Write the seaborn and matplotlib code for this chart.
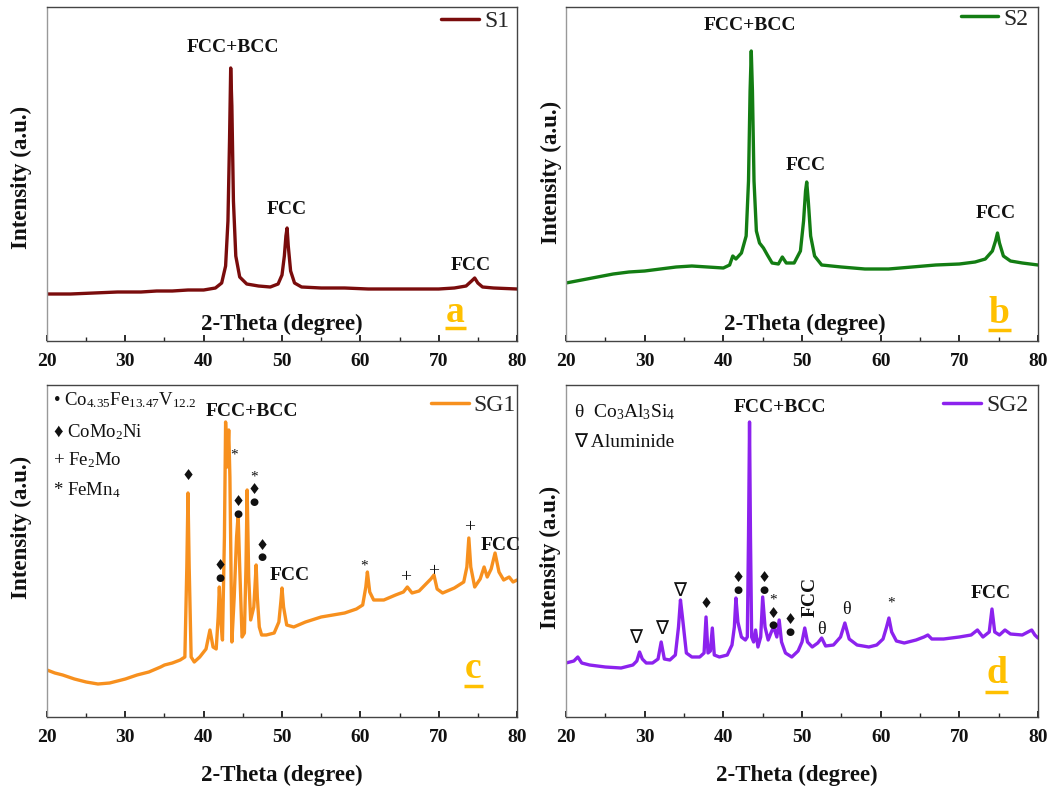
import numpy as np
import pandas as pd
import matplotlib
matplotlib.use("Agg")
import matplotlib.pyplot as plt
import seaborn as sns

# ---- data: (2-theta, intensity a.u.) ----
s1_pts = [(20, 47), (23, 47), (26, 48), (29, 49), (32, 49), (34, 50), (36, 50), (38, 51),
          (40, 51), (41.5, 53), (42.3, 58), (42.8, 75), (43.1, 120), (43.3, 200), (43.45, 273),
          (43.6, 235), (43.8, 140), (44.1, 85), (44.6, 64), (45.5, 57), (47, 55), (48.5, 54),
          (49.5, 57), (50.0, 66), (50.3, 85), (50.5, 105), (50.65, 113), (50.8, 95), (51.1, 70),
          (51.6, 58), (52.5, 54), (55, 53), (58, 53), (61, 52), (64, 52), (67, 52), (70, 52),
          (72, 53), (73.5, 55), (74.2, 60), (74.6, 63), (75.0, 58), (75.6, 54), (77, 53), (80, 52)]

s2_pts = [(20, 58), (22, 61), (24, 64), (26, 67), (28, 69), (30, 70), (32, 72), (34, 74),
          (36, 75), (38, 74), (40, 73), (40.8, 76), (41.2, 85), (41.6, 82), (42.3, 88),
          (42.9, 105), (43.2, 160), (43.4, 250), (43.55, 290), (43.7, 250), (43.9, 160),
          (44.2, 110), (44.6, 98), (45.1, 93), (45.6, 86), (46.2, 78), (47, 77), (47.5, 84),
          (48, 78), (49, 78), (49.8, 90), (50.2, 120), (50.45, 150), (50.6, 159), (50.8, 140),
          (51.1, 105), (51.6, 85), (52.5, 76), (55, 74), (58, 72), (61, 72), (64, 74), (67, 76),
          (70, 77), (72, 79), (73.3, 82), (74.2, 90), (74.6, 100), (74.85, 108), (75.1, 98),
          (75.6, 85), (76.5, 80), (78, 78), (80, 76)]

sg1_pts = [(20, 47), (21, 44), (22, 42), (23.5, 38), (25, 35), (26.5, 33), (28, 34), (30, 38),
           (31.5, 42), (33, 45), (34.5, 50), (35, 52), (36, 54), (37, 57), (37.6, 60),
           (37.85, 150), (38.0, 224), (38.15, 150), (38.4, 60), (38.8, 55), (39.5, 60),
           (40.3, 68), (40.8, 87), (41.2, 70), (41.6, 68), (41.85, 100), (42.0, 130), (42.2, 95),
           (42.4, 77), (42.65, 180), (42.8, 295), (43.0, 250), (43.2, 287), (43.35, 240),
           (43.6, 75), (43.9, 120), (44.2, 180), (44.4, 202), (44.6, 150), (44.9, 80), (45.2, 84),
           (45.4, 150), (45.55, 227), (45.75, 140), (46.0, 97), (46.4, 110), (46.7, 152),
           (46.85, 120), (47.1, 90), (47.4, 82), (48, 82), (49, 84), (49.6, 95), (49.85, 115),
           (50.0, 129), (50.2, 110), (50.6, 92), (51.5, 90), (53, 95), (55, 100), (56.5, 102),
           (58, 104), (59.5, 108), (60.3, 112), (60.7, 130), (60.9, 145), (61.2, 125),
           (61.7, 117), (63, 117), (64.5, 122), (65.5, 125), (66.0, 130), (66.6, 124),
           (67.5, 126), (68.5, 134), (69.0, 138), (69.4, 142), (69.8, 128), (70.5, 124),
           (72, 129), (73.2, 135), (73.6, 150), (73.85, 179), (74.1, 150), (74.6, 130),
           (75.3, 138), (75.8, 150), (76.2, 140), (76.7, 148), (77.2, 164), (77.7, 145),
           (78.3, 137), (79, 140), (79.5, 135), (80, 137)]

sg2_pts = [(20, 54), (21, 56), (21.5, 60), (22, 54), (23, 52), (25, 50), (27, 49), (28.5, 52),
           (29.0, 56), (29.35, 65), (29.7, 58), (30.2, 54), (31, 54), (31.7, 58), (32.1, 75),
           (32.5, 58), (33.2, 57), (33.9, 62), (34.3, 90), (34.55, 117), (34.8, 100), (35.3, 64),
           (36, 60), (37, 60), (37.55, 64), (37.8, 100), (38.05, 64), (38.35, 66), (38.6, 89),
           (38.85, 62), (39.5, 60), (40.5, 62), (41.1, 72), (41.4, 90), (41.6, 119), (41.85, 95),
           (42.3, 80), (42.8, 77), (43.05, 80), (43.2, 180), (43.33, 295), (43.45, 180),
           (43.6, 80), (43.85, 75), (44.1, 87), (44.4, 70), (44.75, 80), (45.0, 120), (45.3, 90),
           (45.7, 77), (46.1, 85), (46.4, 90), (46.8, 80), (47.1, 97), (47.4, 75), (47.9, 64),
           (48.7, 60), (49.5, 66), (50.0, 75), (50.35, 89), (50.7, 75), (51.3, 70), (52.0, 74),
           (52.5, 79), (53.0, 71), (54.0, 72), (54.9, 80), (55.45, 94), (56.0, 78), (57, 72),
           (58.5, 70), (59.5, 72), (60.3, 78), (60.75, 90), (61.05, 99), (61.4, 85), (62, 76),
           (63, 74), (64.5, 77), (65.5, 80), (66, 82), (66.5, 78), (68, 78), (70, 80), (71.5, 82),
           (72.3, 87), (73, 80), (73.8, 85), (74.15, 108), (74.5, 85), (75.1, 82), (75.8, 87),
           (76.5, 83), (78, 82), (79.2, 87), (79.6, 82), (80, 79)]

sample_names = ["S1", "S2", "SG1", "SG2"]
sample_colors = ["#7a0c0c", "#137d13", "#f7901e", "#8c22ee"]
panel_letters = ["a", "b", "c", "d"]
x_ticks = [20, 30, 40, 50, 60, 70, 80]

# phase labels (bold) placed over the peaks: (text, 2-theta, height)
s1_phase = [("FCC+BCC", 43.75, 294), ("FCC", 50.6, 131), ("FCC", 74.15, 76)]
s2_phase = [("FCC+BCC", 43.4, 316), ("FCC", 50.5, 175), ("FCC", 74.6, 128)]
sg1_phase = [("FCC+BCC", 46.2, 305), ("FCC", 51.0, 142), ("FCC", 77.9, 172)]
sg2_phase = [("FCC+BCC", 47.2, 310), ("FCC", 74.0, 124)]

# phase symbols above peaks: (symbol, 2-theta, height)
sg1_marks = [("♦", 38.0, 241), ("♦", 42.1, 151), ("●", 42.1, 139), ("*", 43.9, 262),
             ("♦", 44.4, 215), ("●", 44.4, 203), ("*", 46.4, 240), ("♦", 46.4, 227),
             ("●", 46.4, 215), ("♦", 47.5, 172), ("●", 47.5, 160), ("*", 60.5, 151),
             ("+", 65.8, 139), ("+", 69.3, 145), ("+", 74.0, 189)]
sg2_marks = [("∇", 28.9, 79), ("∇", 32.2, 88), ("∇", 34.4, 126), ("♦", 37.8, 114),
             ("♦", 41.9, 139), ("●", 41.9, 127), ("♦", 45.2, 139), ("●", 45.2, 127),
             ("*", 46.3, 117), ("♦", 46.3, 104), ("●", 46.3, 92), ("♦", 48.5, 97),
             ("●", 48.5, 85), ("θ", 52.5, 87), ("θ", 55.6, 108), ("*", 61.3, 114)]

sg1_key = ["• Co$_{\\mathrm{4.35}}$Fe$_{\\mathrm{13.47}}$V$_{\\mathrm{12.2}}$",
           "♦ CoMo$_{\\mathrm{2}}$Ni", "+ Fe$_{\\mathrm{2}}$Mo", "* FeMn$_{\\mathrm{4}}$"]
sg2_key = ["θ  Co$_{\\mathrm{3}}$Al$_{\\mathrm{3}}$Si$_{\\mathrm{4}}$", "∇ Aluminide"]

sns.set_theme(style="white")
plt.rcParams["font.family"] = ["Liberation Serif", "DejaVu Sans"]
plt.rcParams["mathtext.fontset"] = "custom"
plt.rcParams["mathtext.rm"] = "Liberation Serif"
plt.rcParams["mathtext.it"] = "Liberation Serif:italic"
plt.rcParams["mathtext.bf"] = "Liberation Serif:bold"

fig = plt.figure(figsize=(10.58, 7.93), dpi=100)
W, H = 1058, 793
boxes = [(47, 7, 517, 341), (566, 7, 1038, 341), (47, 385, 517, 717), (566, 385, 1038, 717)]
axes = [fig.add_axes([l / W, 1 - b / H, (r - l) / W, (b - t) / H]) for l, t, r, b in boxes]

curves = [s1_pts, s2_pts, sg1_pts, sg2_pts]
phases = [s1_phase, s2_phase, sg1_phase, sg2_phase]
ylims = [334, 334, 332, 332]
legend_anchor = [(0.983, 0.99), (0.979, 0.997), (0.998, 0.97), (0.979, 0.97)]
ylabel_pos = [(-0.032, 0.49), (-0.008, 0.506), (-0.032, 0.572), (-0.011, 0.48)]
letter_pos = [(0.869, 0.057, 0.847, 0.891, 0.039), (0.918, 0.054, 0.894, 0.943, 0.033),
              (0.907, 0.117, 0.887, 0.928, 0.093), (0.912, 0.102, 0.888, 0.936, 0.075)]

for i, ax in enumerate(axes):
    df = pd.DataFrame(curves[i], columns=["two_theta", "intensity"])
    sns.lineplot(data=df, x="two_theta", y="intensity", ax=ax, color=sample_colors[i],
                 lw=2.4, sort=False, estimator=None, label=sample_names[i])
    ax.set_xlim(20, 80)
    ax.set_ylim(0, ylims[i])
    ax.set_yticks([])
    ax.set_xticks(x_ticks)
    ax.set_xticks(np.arange(25, 80, 10), minor=True)
    ax.tick_params(axis="x", which="major", direction="in", length=4, pad=9,
                   labelsize=14, colors="#111", bottom=True)
    ax.tick_params(axis="x", which="minor", direction="in", length=3, bottom=True)
    for lab in ax.get_xticklabels():
        lab.set_fontweight("bold")
    for side, sp in ax.spines.items():
        sp.set_color("#999" if side == "left" else "#444")
        sp.set_linewidth(1.0)

    ax.set_ylabel("Intensity (a.u.)", fontsize=16.5, fontweight="bold", color="#111")
    ax.yaxis.set_label_coords(*ylabel_pos[i])
    if i < 2:
        ax.set_xlabel("")
        ax.text(0.5 if i == 0 else 0.506, 0.033, "2-Theta (degree)", transform=ax.transAxes,
                ha="center", va="baseline", fontsize=16.5, fontweight="bold", color="#111")
    else:
        ax.set_xlabel("2-Theta (degree)", fontsize=16.5, fontweight="bold", color="#111")
        ax.xaxis.set_label_coords(0.5 if i == 2 else 0.49, -0.145)

    for txt, xx, yy in phases[i]:
        ax.text(xx, yy, txt, ha="center", va="center", fontsize=14, fontweight="bold",
                color="#111")

    leg = ax.legend(loc="upper right", bbox_to_anchor=legend_anchor[i], frameon=False,
                    fontsize=17, handlelength=1.6, handletextpad=0.2, borderpad=0,
                    borderaxespad=0)
    for h in leg.get_lines():
        h.set_linewidth(2.5)

    lx, ly, u0, u1, uy = letter_pos[i]
    ax.text(lx, ly, panel_letters[i], transform=ax.transAxes, ha="center", va="baseline",
            fontsize=27, fontweight="bold", color="#ffc000")
    ax.plot([u0, u1], [uy, uy], transform=ax.transAxes, color="#ffc000", lw=2.5,
            solid_capstyle="butt")

# rotated FCC label in panel d
axes[3].text(51.0, 120, "FCC", rotation=90, ha="center", va="center", fontsize=14,
             fontweight="bold", color="#111")

sym_size = {"♦": 10.5, "●": 7.5, "*": 11, "+": 14, "∇": 14, "θ": 13}
for ax, marks in [(axes[2], sg1_marks), (axes[3], sg2_marks)]:
    for s, xx, yy in marks:
        ax.text(xx, yy, s, ha="center", va="center", fontsize=sym_size[s], color="#111",
                family=["Liberation Serif", "DejaVu Sans"] if s not in "♦●" else ["DejaVu Sans"])

for k, line in enumerate(sg1_key):
    axes[2].text(0.012, [0.955, 0.858, 0.774, 0.684][k], line, transform=axes[2].transAxes,
                 ha="left", va="center", fontsize=13.5, color="#111")
for k, line in enumerate(sg2_key):
    axes[3].text(0.018, [0.919, 0.828][k], line, transform=axes[3].transAxes,
                 ha="left", va="center", fontsize=14, color="#111")

fig.savefig("out.png", dpi=100)
